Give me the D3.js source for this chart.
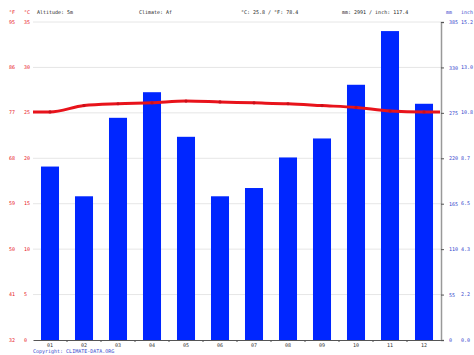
<!DOCTYPE html>
<html><head><meta charset="utf-8">
<script src="https://cdn.jsdelivr.net/npm/d3@7"></script>
<style>body{margin:0;background:#fff}svg{display:block}text{font-family:"DejaVu Sans Mono",monospace}</style>
</head><body><svg id="c" width="474" height="355"></svg>
<script>
const months = ["01","02","03","04","05","06","07","08","09","10","11","12"];
const precipMm = [210, 174, 269, 300, 246, 174, 184, 221, 244, 309, 374, 286];
const tempC = [25.1, 25.8, 26.0, 26.1, 26.3, 26.2, 26.1, 26.0, 25.8, 25.6, 25.2, 25.1];
const tempTicksC = [0, 5, 10, 15, 20, 25, 30, 35];
const tempTicksF = ["32","41","50","59","68","77","86","95"];
const precipTicksMm = [0, 55, 110, 165, 220, 275, 330, 385];
const precipTicksIn = ["0.0","2.2","4.3","6.5","8.7","10.8","13.0","15.2"];
const headerTexts = ["Altitude: 5m","Climate: Af","°C: 25.8 / °F: 78.4","mm: 2991 / inch: 117.4"];

const FS = 5;
const svg = d3.select("#c");
const L = 33, R = 441, T = 22, B = 340;
const x = d3.scaleBand().domain(months).range([L, R]).paddingInner(0.47).paddingOuter(0.235);
const yT = d3.scaleLinear().domain([0, 35]).range([B, T]);
const yP = d3.scaleLinear().domain([0, 385]).range([B, T]);

// gridlines
svg.append("g").selectAll("line").data(tempTicksC.slice(1)).join("line")
  .attr("x1", L).attr("x2", R).attr("y1", d => yT(d)).attr("y2", d => yT(d))
  .attr("stroke", "#e6e6e6").attr("stroke-width", 1);

// bars
svg.append("g").selectAll("rect").data(precipMm).join("rect")
  .attr("x", (d, i) => x(months[i])).attr("width", x.bandwidth())
  .attr("y", d => yP(d)).attr("height", d => B - yP(d))
  .attr("fill", "#0026ff");

// temperature line, extended to edges
const pts = [[L, tempC[0]]].concat(tempC.map((d, i) => [x(months[i]) + x.bandwidth() / 2, d])).concat([[R - 1, tempC[11]]]);
svg.append("path").datum(pts)
  .attr("d", d3.line().x(d => d[0]).y(d => yT(d[1])).curve(d3.curveMonotoneX))
  .attr("fill", "none").attr("stroke", "#e8131b").attr("stroke-width", 3);
svg.append("g").selectAll("circle").data(tempC).join("circle")
  .attr("cx", (d, i) => x(months[i]) + x.bandwidth() / 2).attr("cy", d => yT(d)).attr("r", 1.6)
  .attr("fill", "#c8101a");

// bottom axis
const bx = svg.append("g").attr("transform", `translate(0,${B})`)
  .call(d3.axisBottom(x).tickSize(0).tickPadding(3));
bx.select(".domain").attr("stroke", "#555");
bx.selectAll("text").attr("font-size", FS).attr("fill", "#333").attr("font-family", "DejaVu Sans Mono");
svg.append("g").selectAll("line").data(months.slice(1)).join("line")
  .attr("x1", d => x(d) - x.step() * 0.235).attr("x2", d => x(d) - x.step() * 0.235)
  .attr("y1", B).attr("y2", B + 2).attr("stroke", "#555");

// right axis
const ry = svg.append("g").attr("transform", `translate(${R},0)`)
  .call(d3.axisRight(yP).tickValues(precipTicksMm).tickSize(3).tickPadding(5));
ry.select(".domain").attr("stroke", "#999").attr("stroke-width", 1.5);
ry.selectAll(".tick line").attr("stroke", "#555");
ry.selectAll("text").attr("font-size", FS).attr("fill", "#3344cc").attr("font-family", "DejaVu Sans Mono");
svg.append("g").selectAll("text").data(precipTicksIn).join("text")
  .attr("x", 461).attr("y", (d, i) => yP(precipTicksMm[i])).attr("dy", "0.32em")
  .attr("font-size", FS).attr("fill", "#3344cc").text(d => d);

// left labels
svg.append("g").selectAll("text").data(tempTicksC).join("text")
  .attr("x", 24).attr("y", d => yT(d)).attr("dy", "0.32em")
  .attr("font-size", FS).attr("fill", "#e8131b").text(d => d);
svg.append("g").selectAll("text").data(tempTicksF).join("text")
  .attr("x", 9).attr("y", (d, i) => yT(tempTicksC[i])).attr("dy", "0.32em")
  .attr("font-size", FS).attr("fill", "#e8131b").text(d => d);

// header
svg.append("text").attr("x", 9).attr("y", 14).attr("font-size", FS).attr("fill", "#e8131b").text("°F");
svg.append("text").attr("x", 24).attr("y", 14).attr("font-size", FS).attr("fill", "#e8131b").text("°C");
svg.append("text").attr("x", 446).attr("y", 14).attr("font-size", FS).attr("fill", "#3344cc").text("mm");
svg.append("text").attr("x", 461).attr("y", 14).attr("font-size", FS).attr("fill", "#3344cc").text("inch");
const hx = [37, 139, 241, 342];
svg.append("g").selectAll("text").data(headerTexts).join("text")
  .attr("x", (d, i) => hx[i]).attr("y", 14).attr("font-size", FS).attr("fill", "#222").text(d => d);

svg.append("text").attr("x", 33).attr("y", 353).attr("font-size", FS).attr("fill", "#3344cc").text("Copyright: CLIMATE-DATA.ORG");
</script></body></html>
